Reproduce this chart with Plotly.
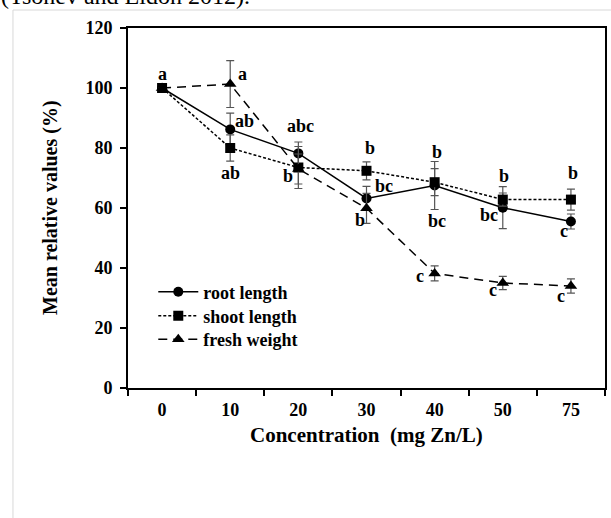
import plotly.graph_objects as go

# ---- data ----
concentration = ["0", "10", "20", "30", "40", "50", "75"]
root_length = [100, 86.2, 78.2, 63.2, 67.5, 60.1, 55.5]
root_err = [0, 5.4, 3.8, 4.0, 8.0, 7.0, 2.5]
shoot_length = [100, 80.0, 73.5, 72.4, 68.6, 62.8, 62.8]
shoot_err = [0, 4.4, 7.0, 3.0, 4.5, 2.2, 3.5]
fresh_weight = [100, 101.3, 73.0, 59.9, 38.2, 35.0, 34.0]
fresh_err = [0, 7.8, 5.0, 5.0, 2.5, 2.2, 2.4]

# significance letters: (category index, series, letter)
letters = [
    (0, "root", "a"),
    (1, "fresh", "a"), (1, "root", "ab"), (1, "shoot", "ab"),
    (2, "root", "abc"), (2, "shoot", "b"),
    (3, "shoot", "b"), (3, "root", "bc"), (3, "fresh", "b"),
    (4, "shoot", "b"), (4, "root", "bc"), (4, "fresh", "c"),
    (5, "shoot", "b"), (5, "root", "bc"), (5, "fresh", "c"),
    (6, "shoot", "b"), (6, "root", "c"), (6, "fresh", "c"),
]
letter_offsets = [
    (0, 14),
    (12, 10), (14, 8), (0, -25),
    (2, 27), (-10, -8),
    (3, 23), (17, 12), (-7, -12),
    (2, 30), (2, -35), (-15, -3),
    (1, 24), (-14, -7), (-10, -7),
    (2, 27), (-7, -9), (-10, -10),
]

FONT = "Liberation Serif"
series = {"root": root_length, "shoot": shoot_length, "fresh": fresh_weight}

fig = go.Figure()

def err(arr):
    return dict(type="data", array=arr, visible=True, color="#555555",
                thickness=1.2, width=4)

fig.add_trace(go.Scatter(
    x=concentration, y=root_length, name="root length", mode="lines+markers",
    line=dict(color="black", width=1.5, dash="solid"),
    marker=dict(symbol="circle", size=10, color="black"),
    error_y=err(root_err), legend="legend"))
fig.add_trace(go.Scatter(
    x=concentration, y=shoot_length, name="shoot length", mode="lines+markers",
    line=dict(color="black", width=1.5, dash="3px,2px"),
    marker=dict(symbol="square", size=10, color="black"),
    error_y=err(shoot_err), legend="legend2"))
fig.add_trace(go.Scatter(
    x=concentration, y=fresh_weight, name="fresh weight", mode="lines+markers",
    line=dict(color="black", width=1.5, dash="9px,6px"),
    marker=dict(symbol="triangle-up", size=11, color="black"),
    error_y=err(fresh_err), legend="legend3"))

annotations = []
for (i, s, t), (dx, dy) in zip(letters, letter_offsets):
    annotations.append(dict(
        x=i, y=series[s][i], xref="x", yref="y", text=t,
        showarrow=False, xshift=dx, yshift=dy,
        font=dict(family=FONT, size=18, color="black", weight="bold")))

# axis titles
annotations.append(dict(
    x=0.5, y=0, xref="paper", yref="paper", text="Concentration  (mg Zn/L)",
    showarrow=False, yshift=-47, yanchor="middle",
    font=dict(family=FONT, size=21, color="black", weight="bold")))
annotations.append(dict(
    x=0, y=0.5, xref="paper", yref="paper", text="Mean relative values (%)",
    showarrow=False, xshift=-78, textangle=-90, xanchor="center",
    font=dict(family=FONT, size=20, color="black", weight="bold")))
# cut-off caption at the top of the page
annotations.append(dict(
    x=(-2 - 128) / 479, y=(388 - 11) / 360, xref="paper", yref="paper",
    text="(Tsonev and Eldon 2012).", showarrow=False, xanchor="left",
    yanchor="bottom", font=dict(family=FONT, size=24, color="black")))

legend_font = dict(family=FONT, size=18, color="black", weight="bold")
def leg(ypix):
    return dict(x=0.053, y=(388 - ypix) / 360, xanchor="left",
                yanchor="middle", bgcolor="rgba(0,0,0,0)", itemwidth=40,
                font=legend_font)

fig.update_layout(
    width=611, height=518,
    margin=dict(l=128, r=4, t=28, b=130),
    paper_bgcolor="white", plot_bgcolor="white",
    showlegend=True,
    legend=leg(292), legend2=leg(316), legend3=leg(339.5),
    annotations=annotations,
    shapes=[dict(type="rect", xref="paper", yref="paper",
                 x0=(12.5 - 128) / 479, x1=2, y0=-2, y1=(388 - 10) / 360,
                 line=dict(color="#d8d8d8", width=1), layer="below")],
)
fig.update_xaxes(
    type="category", range=[-0.5, 6.5], showline=True, linecolor="black",
    linewidth=2, mirror=True, ticks="outside", tickson="boundaries",
    ticklen=6, tickwidth=2, tickcolor="black", showgrid=False, zeroline=False,
    tickfont=dict(family=FONT, size=18, color="black", weight="bold"),
    ticklabelstandoff=4)
fig.update_yaxes(
    range=[0, 120], dtick=20, showline=True, linecolor="black", linewidth=2,
    mirror=True, ticks="outside", ticklen=6, tickwidth=2, tickcolor="black",
    showgrid=False, zeroline=False,
    tickfont=dict(family=FONT, size=18, color="black", weight="bold"),
    ticklabelstandoff=4)

fig.write_html("out.html", config={"displayModeBar": False},
               post_script="document.body.style.margin='0';"
                           "document.body.style.overflow='hidden';")
